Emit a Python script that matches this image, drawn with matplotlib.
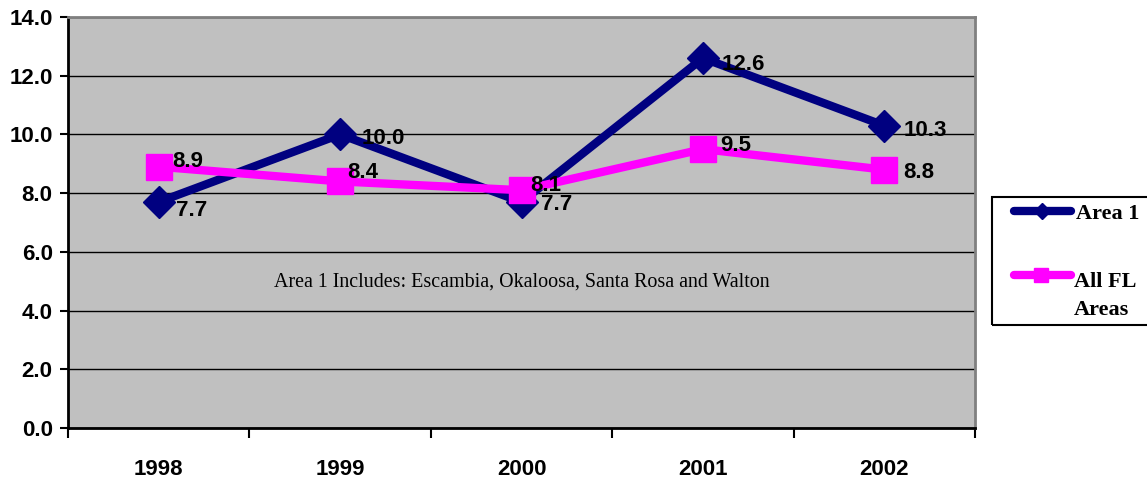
import matplotlib
matplotlib.use("Agg")
import matplotlib.pyplot as plt
from matplotlib.lines import Line2D
from matplotlib.patches import Rectangle

years = ["1998", "1999", "2000", "2001", "2002"]
area1 = [7.7, 10.0, 7.7, 12.6, 10.3]
all_fl = [8.9, 8.4, 8.1, 9.5, 8.8]
yticks = [0, 2, 4, 6, 8, 10, 12, 14]
note = "Area 1 Includes: Escambia, Okaloosa, Santa Rosa and Walton"

NAVY = "#000080"
MAG = "#FF00FF"

fig = plt.figure(figsize=(11.47, 4.8), dpi=100)
L, R, T, B = 68, 975, 17, 428
ax = fig.add_axes([L / 1147, 1 - B / 480, (R - L) / 1147, (B - T) / 480])
ax.set_facecolor("#C0C0C0")

x = list(range(len(years)))
ax.plot(x, area1, color=NAVY, lw=6, marker="D", ms=16, mfc=NAVY, mec=NAVY,
        solid_capstyle="round", zorder=3)
ax.plot(x, all_fl, color=MAG, lw=6, marker="s", ms=19, mfc=MAG, mec=MAG,
        solid_capstyle="round", zorder=4)

LBL = dict(ha="left", va="baseline", fontsize=16, fontweight="bold",
           family="Liberation Sans", zorder=6, textcoords="offset pixels")
off_a = [(17, -14), (22, -10), (19, -8), (19, -12), (19, -10)]
off_m = [(14, 0), (7, 3), (9, -1), (17, -2), (19, -8)]
for i, v in enumerate(area1):
    ax.annotate(f"{v:.1f}", (x[i], v), xytext=off_a[i], **LBL)
for i, v in enumerate(all_fl):
    ax.annotate(f"{v:.1f}", (x[i], v), xytext=off_m[i], **LBL)

ax.set_xlim(-0.5, len(years) - 0.5)
ax.set_ylim(0, 14)
ax.set_yticks(yticks)
ax.set_yticklabels([f"{t:.1f}" for t in yticks], fontsize=16, fontweight="bold",
                   family="Liberation Sans")
ax.yaxis.grid(True, color="black", lw=1)
ax.set_axisbelow(True)

ax.set_xticks([i + 0.5 for i in range(-1, len(years))])
ax.set_xticklabels([])
ax.set_xticks(x, minor=True)
ax.set_xticklabels(years, minor=True, fontsize=16, fontweight="bold",
                   family="Liberation Sans")
ax.tick_params(axis="x", which="minor", length=0, pad=22)
ax.tick_params(axis="x", which="major", length=7, width=1.5, direction="out")
ax.tick_params(axis="y", length=6, width=1.5, direction="out", pad=5)

for s in ["left", "bottom"]:
    ax.spines[s].set_color("black")
    ax.spines[s].set_linewidth(2)
for s in ["top", "right"]:
    ax.spines[s].set_color("#808080")
    ax.spines[s].set_linewidth(2)

ax.text(0.5, 0.355, note, transform=ax.transAxes, ha="center", va="center",
        fontsize=14.4, family="Liberation Serif", zorder=5)

# legend box (drawn in figure pixels)
def fx(px):
    return px / 1147
def fy(py):
    return 1 - py / 480

fig.patches.append(Rectangle((fx(992), fy(325)), fx(1160) - fx(992), fy(197) - fy(325),
                             transform=fig.transFigure, fill=False, ec="black", lw=1.5))
fig.lines.append(Line2D([fx(1014), fx(1071)], [fy(211), fy(211)], transform=fig.transFigure,
                        color=NAVY, lw=6, solid_capstyle="round"))
fig.lines.append(Line2D([fx(1042)], [fy(211)], transform=fig.transFigure, color=NAVY,
                        marker="D", ms=8, ls="none"))
fig.lines.append(Line2D([fx(1014), fx(1071)], [fy(275), fy(275)], transform=fig.transFigure,
                        color=MAG, lw=6, solid_capstyle="round"))
fig.lines.append(Line2D([fx(1041)], [fy(275)], transform=fig.transFigure, color=MAG,
                        marker="s", ms=10, ls="none"))
LEG = dict(ha="left", va="center", fontsize=16, fontweight="bold",
           family="Liberation Serif")
fig.text(fx(1076), fy(214), "Area 1", **LEG)
fig.text(fx(1074), fy(282), "All FL", **LEG)
fig.text(fx(1074), fy(310), "Areas", **LEG)

fig.savefig("out.png", dpi=100)
